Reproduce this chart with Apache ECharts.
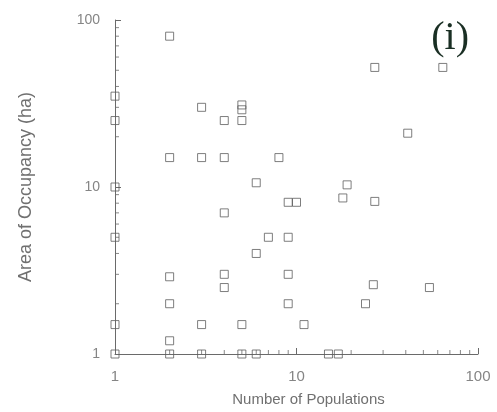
<!DOCTYPE html>
<html>
<head>
<meta charset="utf-8">
<script src="https://cdn.jsdelivr.net/npm/echarts@6/dist/echarts.min.js"></script>
<style>html,body{margin:0;padding:0;background:#fff}#c{width:497px;height:412px}</style>
</head>
<body>
<div id="c"></div>
<script>
// Number of Populations (x) and Area of Occupancy in ha (y)
const populations = [2, 1, 1, 3, 5, 5, 4, 5, 2, 3, 4, 8, 27, 64, 41, 1, 6, 9, 10, 4, 1, 7, 9, 6,
  2, 4, 9, 4, 2, 9, 1, 3, 5, 2, 1, 2, 3, 5, 6, 19, 18, 27, 26.5, 54, 24, 11, 15, 17];
const areaHa = [80, 35, 25, 30, 31, 29, 25, 25, 15, 15, 15, 15, 52, 52, 21, 10, 10.6, 8.1, 8.1, 7, 5, 5, 5, 4,
  2.9, 3, 3, 2.5, 2, 2, 1.5, 1.5, 1.5, 1.2, 1, 1, 1, 1, 1, 10.3, 8.6, 8.2, 2.6, 2.5, 2, 1.5, 1, 1];
const xTickLabels = ['1', '10', '100'];
const yTickLabels = ['1', '10', '100'];
const xMinorTicks = [2, 3, 4, 5, 6, 7, 8, 9, 20, 30, 40, 50, 60, 70, 80, 90];
const yMinorTicks = [2, 3, 4, 5, 6, 7, 8, 9, 20, 30, 40, 50, 60, 70, 80, 90];
const panelLabel = '(i)';

const points = populations.map((x, i) => [x, areaHa[i]]);
const axisColor = '#6a6a6a';
const labelFont = 'Liberation Sans';

const chart = echarts.init(document.getElementById('c'), null, {renderer: 'canvas'});
chart.setOption({
  backgroundColor: '#ffffff',
  animation: false,
  title: {
    text: panelLabel, right: 23, top: 13,
    textStyle: {fontFamily: 'Liberation Serif', fontSize: 40, fontWeight: 'normal', color: '#1a2f24'}
  },
  grid: {left: 115, right: 19, top: 20, bottom: 56, containLabel: false},
  xAxis: {
    type: 'log', logBase: 10, min: 1, max: 100,
    name: 'Number of Populations', nameLocation: 'middle', nameGap: 38,
    nameTextStyle: {fontFamily: labelFont, fontSize: 15, color: '#707070', padding: [0, 0, 0, 24]},
    axisLine: {show: true, lineStyle: {color: axisColor, width: 1}},
    axisTick: {show: true, inside: true, length: 6, lineStyle: {color: axisColor}},
    axisLabel: {
      fontFamily: labelFont, fontSize: 15, color: '#858585', margin: 15,
      formatter: v => xTickLabels.find(t => +t === Math.round(v)) || ''
    },
    splitLine: {show: false}
  },
  yAxis: {
    type: 'log', logBase: 10, min: 1, max: 100,
    name: 'Area of Occupancy (ha)', nameLocation: 'middle', nameGap: 80, nameRotate: 90,
    nameTextStyle: {fontFamily: labelFont, fontSize: 18, color: '#707070'},
    axisLine: {show: true, lineStyle: {color: axisColor, width: 1}},
    axisTick: {show: true, inside: true, length: 6, lineStyle: {color: axisColor}},
    axisLabel: {
      fontFamily: labelFont, fontSize: 14, color: '#858585', margin: 15,
      formatter: v => yTickLabels.find(t => +t === Math.round(v)) || ''
    },
    splitLine: {show: false}
  },
  series: [
    {
      type: 'scatter', silent: true, clip: false,
      data: xMinorTicks.map(v => [v, 1]),
      symbol: 'rect', symbolSize: [1, 4], symbolOffset: [0, -2],
      itemStyle: {color: axisColor}
    },
    {
      type: 'scatter', silent: true, clip: false,
      data: yMinorTicks.map(v => [1, v]),
      symbol: 'rect', symbolSize: [4, 1], symbolOffset: [2, 0],
      itemStyle: {color: axisColor}
    },
    {
      type: 'scatter', clip: false,
      data: points,
      symbol: 'rect', symbolSize: 8,
      itemStyle: {color: 'rgba(255,255,255,0)', borderColor: '#5e5e5e', borderWidth: 1}
    }
  ]
});
</script>
</body>
</html>
